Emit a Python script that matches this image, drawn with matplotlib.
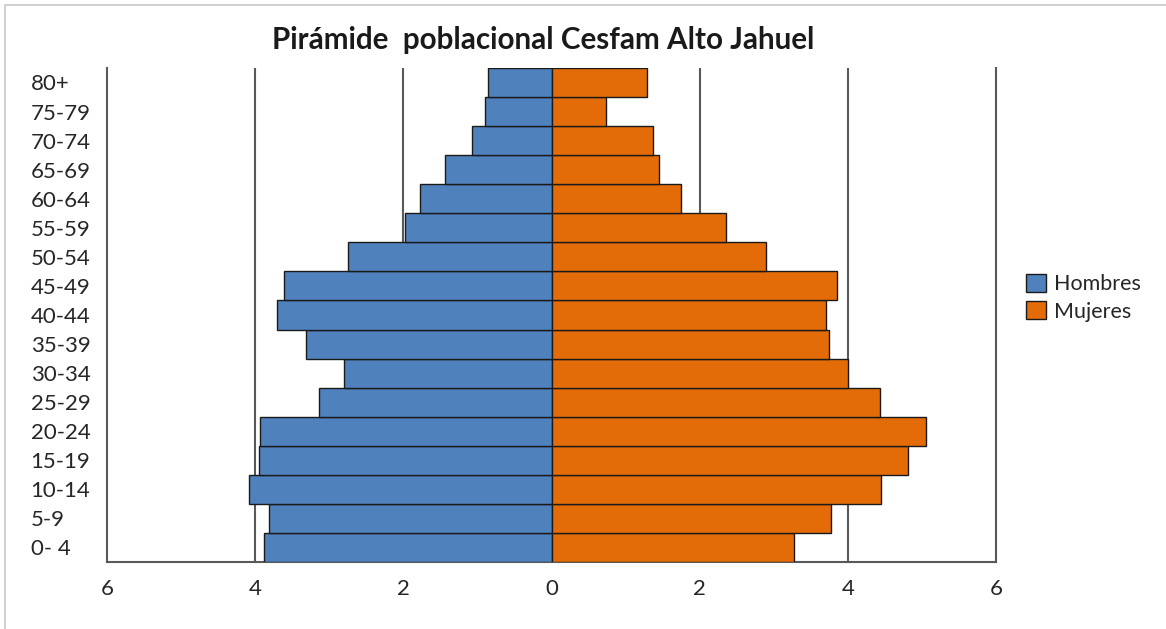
import numpy as np
import matplotlib
matplotlib.use("Agg")
import matplotlib.pyplot as plt
from matplotlib.patches import Rectangle

plt.rcParams['font.family'] = ['Lato', 'DejaVu Sans']

# datos
grupos = ["0- 4", "5-9", "10-14", "15-19", "20-24", "25-29", "30-34", "35-39",
          "40-44", "45-49", "50-54", "55-59", "60-64", "65-69", "70-74", "75-79", "80+"]
hombres = [3.88, 3.81, 4.08, 3.95, 3.93, 3.14, 2.80, 3.32,
           3.71, 3.61, 2.75, 1.98, 1.78, 1.44, 1.08, 0.90, 0.86]
mujeres = [3.27, 3.77, 4.45, 4.81, 5.06, 4.44, 4.00, 3.75,
           3.71, 3.85, 2.90, 2.36, 1.75, 1.45, 1.37, 0.74, 1.29]
ticks_x = [-6, -4, -2, 0, 2, 4, 6]

azul = "#4F81BD"
naranja = "#E36C09"
gris = "#595959"

fig = plt.figure(figsize=(11.66, 6.29), dpi=100)
ax = fig.add_axes([0.0918, 0.1065, 0.7624, 0.7855])

y = np.arange(len(grupos))
ax.barh(y, -np.array(hombres), height=1.0, color=azul, edgecolor="#1a1a1a",
        linewidth=1.0, label="Hombres", zorder=3)
ax.barh(y, mujeres, height=1.0, color=naranja, edgecolor="#1a1a1a",
        linewidth=1.0, label="Mujeres", zorder=3)

ax.set_xlim(-6, 6)
ax.set_ylim(-0.5, len(grupos) - 0.5)

# lineas verticales de la grilla
for t in [-4, -2, 2, 4]:
    ax.axvline(t, color=gris, linewidth=1.5, zorder=1)

ax.spines['top'].set_visible(False)
for s in ['left', 'right', 'bottom']:
    ax.spines[s].set_color(gris)
    ax.spines[s].set_linewidth(1.5)

ax.set_xticks(ticks_x)
ax.set_xticklabels([str(abs(t)) for t in ticks_x], fontsize=16, color="#262626")
ax.set_yticks(y)
ax.set_yticklabels(grupos, fontsize=16, ha='left', color="#262626")
ax.tick_params(axis='y', length=0, pad=55)
ax.tick_params(axis='x', length=0, pad=12)

fig.text(0.4655, 0.937, "Pirámide  poblacional Cesfam Alto Jahuel",
         ha='center', va='center', fontsize=21.3, fontweight='bold', color="#1a1a1a")

ax.legend(loc='center left', bbox_to_anchor=(1.024, 0.535), frameon=False,
          fontsize=15.5, handlelength=0.95, handleheight=0.95, handletextpad=0.35,
          labelspacing=0.3, borderaxespad=0, labelcolor="#262626")

# marco exterior (solo se ve arriba y a la izquierda)
fig.patches.append(Rectangle((5 / 1166, -0.05), 1.2, 1.05 - 5 / 629,
                             transform=fig.transFigure, fill=False,
                             edgecolor="#c8c8c8", linewidth=1.2))

fig.savefig("out.png", dpi=100)
